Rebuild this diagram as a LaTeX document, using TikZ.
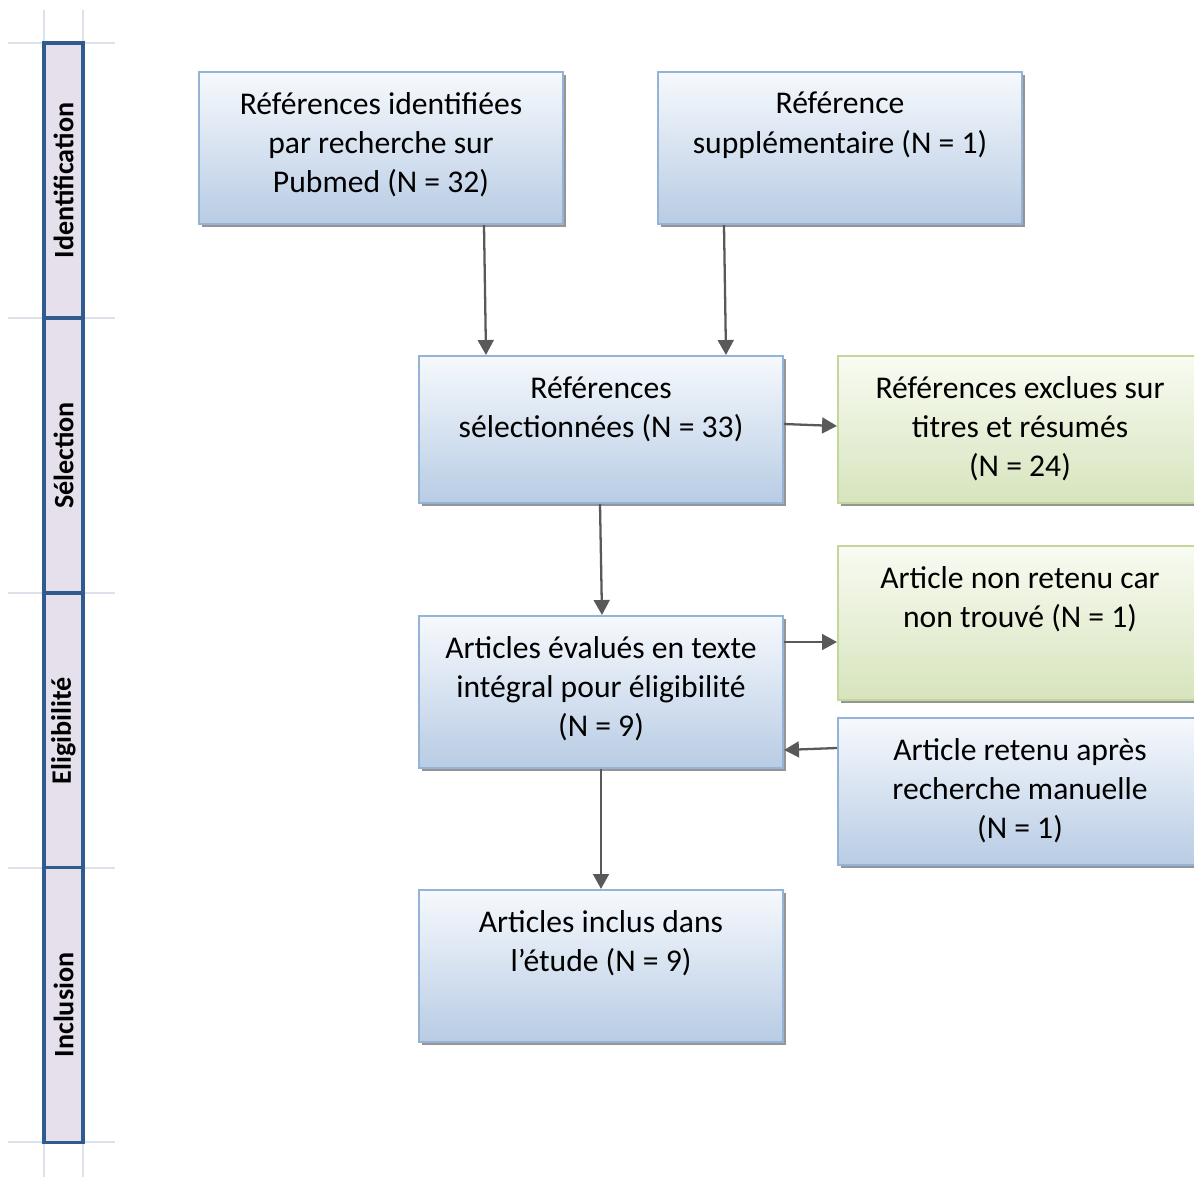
\documentclass[tikz,border=0pt]{standalone}
\usepackage{fontspec}
\setmainfont{Carlito}
\usetikzlibrary{calc}
\usetikzlibrary{arrows.meta}

\definecolor{bluetop}{HTML}{F6F9FD}
\definecolor{bluebot}{HTML}{B8CCE4}
\definecolor{blueline}{HTML}{95B3D7}
\definecolor{greentop}{HTML}{F8FBF2}
\definecolor{greenbot}{HTML}{D7E4BD}
\definecolor{greenline}{HTML}{C3D69B}
\definecolor{arrowgray}{HTML}{595959}
\definecolor{stageline}{HTML}{2F5B8E}
\definecolor{stagefill}{HTML}{E5E0EC}
\definecolor{gridline}{HTML}{DCE1EA}
\definecolor{shadowgray}{HTML}{959595}

\tikzset{
  bluebox/.style={draw=blueline, line width=1.2pt, top color=bluetop, bottom color=bluebot,
    minimum width=7.28cm, inner sep=0pt,
    preaction={fill=shadowgray, transform canvas={shift={(0.06cm,-0.06cm)}}}},
  greenbox/.style={bluebox, draw=greenline, top color=greentop, bottom color=greenbot},
  boxtext/.style={anchor=north, align=center, inner sep=0pt, font=\fontsize{18}{22.4}\selectfont},
  stage/.style={draw=stageline, line width=2.2pt, fill=stagefill, rotate=90,
    minimum width=5.5cm, minimum height=0.78cm, inner sep=0pt, font=\fontsize{16}{19}\selectfont\bfseries},
  flow/.style={draw=arrowgray, line width=1.3pt, -{Triangle[length=8.5pt,width=9pt]}}
}

\begin{document}
\begin{tikzpicture}[x=0.02cm, y=-0.02cm]
\clip (0,0) rectangle (1194,1177);
\foreach \xx in {44,83} \draw[gridline, line width=1.2pt] (\xx,10) -- (\xx,1177);
\foreach \yy in {43,318,593,868,1142} \draw[gridline, line width=1.2pt] (8,\yy) -- (115,\yy);
\node[stage] (ident) at (63.5,180.5) {Identification};
\node[stage] (selection) at (63.5,455.5) {Sélection};
\node[stage] (eligib) at (63.5,730.5) {Eligibilité};
\node[stage] (inclusion) at (63.5,1005) {Inclusion};

\node[bluebox, minimum height=3.04cm] (pubmed) at (381,148) {};
\node[boxtext] (pubmedtxt) at ($(pubmed.north)+(0,21)$) {Références identifiées\\par recherche sur\\Pubmed (N = 32)};
\node[bluebox, minimum height=3.04cm] (suppl) at (840,148) {};
\node[boxtext] (suppltxt) at ($(suppl.north)+(0,21)$) {Référence\\supplémentaire (N = 1)};

\node[bluebox, minimum height=2.94cm] (selec) at (601,429.5) {};
\node[boxtext] (selectxt) at ($(selec.north)+(0,21)$) {Références\\sélectionnées (N = 33)};
\node[greenbox, minimum height=2.94cm] (exclu) at (1020,429.5) {};
\node[boxtext] (exclutxt) at ($(exclu.north)+(0,21)$) {Références exclues sur\\titres et résumés\\(N = 24)};

\node[greenbox, minimum height=3.08cm] (nontrouve) at (1020,623) {};
\node[boxtext] (nontrouvetxt) at ($(nontrouve.north)+(0,21)$) {Article non retenu car\\non trouvé (N = 1)};
\node[bluebox, minimum height=3.04cm] (evalu) at (601,692) {};
\node[boxtext] (evalutxt) at ($(evalu.north)+(0,21)$) {Articles évalués en texte\\intégral pour éligibilité\\(N = 9)};
\node[bluebox, minimum height=2.94cm] (manuel) at (1020,791.5) {};
\node[boxtext] (manueltxt) at ($(manuel.north)+(0,21)$) {Article retenu après\\recherche manuelle\\(N = 1)};

\node[bluebox, minimum height=3.04cm] (inclus) at (601,966) {};
\node[boxtext] (inclustxt) at ($(inclus.north)+(0,21)$) {Articles inclus dans\\l’étude (N = 9)};

\draw[flow] ($(pubmed.south)+(103,0)$) -- ($(selec.north)+(-115,0)$);
\draw[flow] ($(suppl.south)+(-116,0)$) -- ($(selec.north)+(125,0)$);
\draw[flow] ($(selec.east)+(0,-5.5)$) -- ($(exclu.west)+(0,-3.5)$);
\draw[flow] ($(selec.south)+(-1,0)$) -- ($(evalu.north)+(1,0)$);
\draw[flow] ($(evalu.east)+(0,-50)$) -- ($(nontrouve.west)+(0,19)$);
\draw[flow] ($(manuel.west)+(0,-43.5)$) -- ($(evalu.east)+(0,58)$);
\draw[flow] (evalu.south) -- (inclus.north);
\end{tikzpicture}
\end{document}
